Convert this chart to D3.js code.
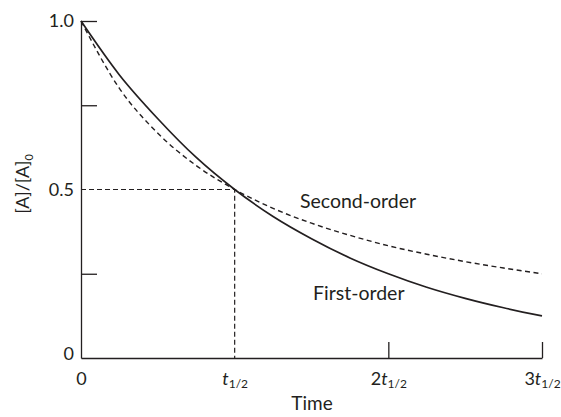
<!DOCTYPE html>
<html><head><meta charset="utf-8">
<script src="https://cdn.jsdelivr.net/npm/d3@7"></script>
<style>
body{margin:0;background:#fff}
svg{display:block}
text{font-family:Lato,"Open Sans",sans-serif;fill:#231f20}
</style>
</head><body>
<svg id="chart" width="561" height="417"></svg>
<script>
// ---- data ----
const times = [0, 0.25, 0.5, 0.75, 1, 1.25, 1.5, 1.75, 2, 2.25, 2.5, 2.75, 3];
const firstOrder = [1.00, 0.84, 0.71, 0.595, 0.50, 0.42, 0.354, 0.297, 0.25, 0.21, 0.177, 0.149, 0.125];
const secondOrder = [1.00, 0.80, 0.667, 0.571, 0.50, 0.444, 0.40, 0.364, 0.333, 0.308, 0.286, 0.267, 0.25];
const xTicks = [0, 1, 2, 3];
const xTickLabels = ["0", "t1/2", "2t1/2", "3t1/2"];
const yTicks = [0, 0.25, 0.5, 0.75, 1];
const yTickLabels = ["0", "", "0.5", "", "1.0"];
const halfLife = 1, halfValue = 0.5;
const seriesNames = ["Second-order", "First-order"];

// ---- layout ----
const ink = "#231f20";
const svg = d3.select("#chart");
const x = d3.scaleLinear().domain([0, 3]).range([81, 542]);
const y = d3.scaleLinear().domain([0, 1]).range([358, 21]);

// guide lines (dashed) at t1/2
svg.append("path")
  .attr("d", d3.line()([[x(0), y(halfValue)], [x(halfLife), y(halfValue)], [x(halfLife), y(0)]]))
  .attr("fill", "none").attr("stroke", ink).attr("stroke-width", 1.2)
  .attr("stroke-dasharray", "5,3");

// axes
const xAxis = d3.axisBottom(x).tickValues(xTicks).tickSizeInner(-16).tickSizeOuter(0).tickPadding(14)
  .tickFormat((d, i) => "");
const gx = svg.append("g").attr("transform", `translate(0,${y(0)})`).call(xAxis);
const yAxis = d3.axisLeft(y).tickValues(yTicks).tickSizeInner(-16).tickSizeOuter(0).tickPadding(7)
  .tickFormat((d, i) => yTickLabels[i]);
const gy = svg.append("g").attr("transform", `translate(${x(0)},0)`).call(yAxis);

[gx, gy].forEach(g => {
  g.selectAll(".domain").attr("stroke", ink).attr("stroke-width", 1.3);
  g.selectAll(".tick line").attr("stroke", ink).attr("stroke-width", 1.3);
  g.selectAll("text").style("font-family", "Lato, 'Open Sans', sans-serif").attr("font-size", 18).attr("fill", ink);
});
// no tick marks where a guide or the other axis sits
gx.selectAll(".tick line").filter(d => d === 0 || d === halfLife).remove();
gy.selectAll(".tick line").filter(d => d === 0 || d === halfValue).remove();
gy.selectAll(".tick text").filter(d => d === 0).attr("dy", "0.1em");

// x tick labels with italic t and subscript 1/2
gx.selectAll(".tick text").each(function(d, i) {
  const lab = xTickLabels[i];
  const t = d3.select(this).text(null);
  const k = lab.indexOf("t");
  if (k < 0) { t.text(lab); return; }
  if (k > 0) t.append("tspan").text(lab.slice(0, k));
  t.append("tspan").attr("font-style", "italic").text("t");
  t.append("tspan").attr("font-size", 12).attr("dy", 3).text(lab.slice(k + 1));
});

// curves
const line = d3.line().x((d, i) => x(times[i])).y(d => y(d)).curve(d3.curveMonotoneX);
svg.append("path").datum(firstOrder).attr("d", line)
  .attr("fill", "none").attr("stroke", ink).attr("stroke-width", 1.7);
svg.append("path").datum(secondOrder).attr("d", line)
  .attr("fill", "none").attr("stroke", ink).attr("stroke-width", 1.4)
  .attr("stroke-dasharray", "5,3.5");

// series labels
svg.append("text").attr("x", x(1.425)).attr("y", y(0.445)).attr("font-size", 19.5).text(seriesNames[0]);
svg.append("text").attr("x", x(1.51)).attr("y", y(0.172)).attr("font-size", 19.5).text(seriesNames[1]);

// axis titles
svg.append("text").attr("x", 312).attr("y", 410).attr("text-anchor", "middle").attr("font-size", 19).text("Time");
const yt = svg.append("text").attr("transform", "translate(29,184) rotate(-90)")
  .attr("text-anchor", "middle").attr("font-size", 18);
yt.append("tspan").text("[A]/[A]");
yt.append("tspan").attr("font-size", 11).attr("dy", 4).text("0");
</script>
</body></html>
